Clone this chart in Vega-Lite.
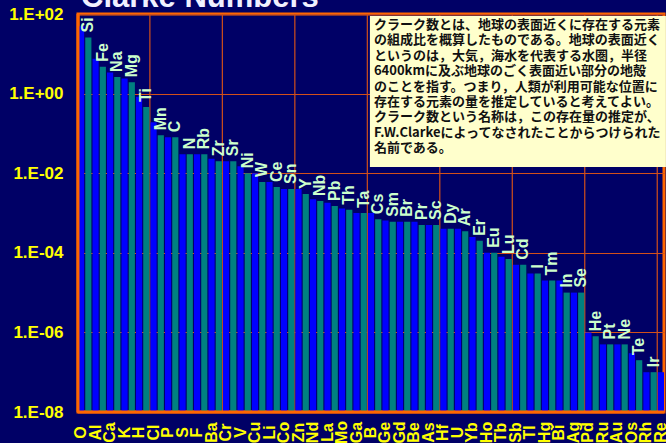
{
  "$schema": "https://vega.github.io/schema/vega-lite/v6.json",
  "width": 586,
  "height": 398,
  "autosize": {"type": "none"},
  "padding": {"left": 78, "top": 14, "right": 2, "bottom": 31},
  "background": "#000066",
  "config": {
    "view": {"stroke": "#FF6600", "strokeWidth": 3},
    "font": "Liberation Sans",
    "axis": {"gridColor": "#D2501A", "gridWidth": 1.2, "gridOpacity": 1}
  },
  "datasets": {
    "clarke": [
      {"el": "O", "v": 49.5}, {"el": "Si", "v": 25.8}, {"el": "Al", "v": 7.56}, {"el": "Fe", "v": 4.7},
      {"el": "Ca", "v": 3.39}, {"el": "Na", "v": 2.63}, {"el": "K", "v": 2.4}, {"el": "Mg", "v": 1.93},
      {"el": "H", "v": 0.83}, {"el": "Ti", "v": 0.46}, {"el": "Cl", "v": 0.19}, {"el": "Mn", "v": 0.09},
      {"el": "P", "v": 0.08}, {"el": "C", "v": 0.08}, {"el": "S", "v": 0.03}, {"el": "N", "v": 0.03},
      {"el": "F", "v": 0.03}, {"el": "Rb", "v": 0.03}, {"el": "Ba", "v": 0.023}, {"el": "Zr", "v": 0.02},
      {"el": "Cr", "v": 0.02}, {"el": "Sr", "v": 0.02}, {"el": "V", "v": 0.015}, {"el": "Ni", "v": 0.01},
      {"el": "Cu", "v": 0.01}, {"el": "W", "v": 0.006}, {"el": "Li", "v": 0.006}, {"el": "Ce", "v": 0.0045},
      {"el": "Co", "v": 0.004}, {"el": "Sn", "v": 0.004}, {"el": "Zn", "v": 0.004}, {"el": "Y", "v": 0.003},
      {"el": "Nd", "v": 0.0022}, {"el": "Nb", "v": 0.002}, {"el": "La", "v": 0.0018}, {"el": "Pb", "v": 0.0015},
      {"el": "Mo", "v": 0.0013}, {"el": "Th", "v": 0.0012}, {"el": "Ga", "v": 0.001}, {"el": "Ta", "v": 0.001},
      {"el": "B", "v": 0.001}, {"el": "Cs", "v": 0.0007}, {"el": "Ge", "v": 0.00065}, {"el": "Sm", "v": 0.0006},
      {"el": "Gd", "v": 0.0006}, {"el": "Br", "v": 0.0006}, {"el": "Be", "v": 0.0006}, {"el": "Pr", "v": 0.0005},
      {"el": "As", "v": 0.0005}, {"el": "Sc", "v": 0.0005}, {"el": "Hf", "v": 0.0004}, {"el": "Dy", "v": 0.0004},
      {"el": "U", "v": 0.0004}, {"el": "Ar", "v": 0.00035}, {"el": "Yb", "v": 0.00025}, {"el": "Er", "v": 0.0002},
      {"el": "Ho", "v": 0.0001}, {"el": "Eu", "v": 0.0001}, {"el": "Tb", "v": 0.00008}, {"el": "Lu", "v": 0.00007},
      {"el": "Sb", "v": 0.00005}, {"el": "Cd", "v": 0.00005}, {"el": "Tl", "v": 0.00003}, {"el": "I", "v": 0.00003},
      {"el": "Hg", "v": 0.00002}, {"el": "Tm", "v": 0.00002}, {"el": "Bi", "v": 0.00002}, {"el": "In", "v": 0.00001},
      {"el": "Ag", "v": 0.00001}, {"el": "Se", "v": 0.00001}, {"el": "Pd", "v": 0.000001}, {"el": "He", "v": 0.0000008},
      {"el": "Ru", "v": 0.0000005}, {"el": "Pt", "v": 0.0000005}, {"el": "Au", "v": 0.0000005}, {"el": "Ne", "v": 0.0000005},
      {"el": "Os", "v": 0.0000003}, {"el": "Te", "v": 0.0000002}, {"el": "Rh", "v": 0.0000001}, {"el": "Ir", "v": 0.0000001},
      {"el": "Re", "v": 0.0000001}
    ],
    "grid": [
      {"el": "Cl"}, {"el": "Cr"}, {"el": "Zn"}, {"el": "B"}, {"el": "Hf"}, {"el": "Sb"}, {"el": "Pd"}, {"el": "Re"}
    ],
    "heading": [{"text": "Clarke Numbers"}],
    "note": [
      {"text": "クラーク数とは、地球の表面近くに存在する元素\nの組成比を概算したものである。地球の表面近く\nというのは，大気，海水を代表する水圏，半径\n6400kmに及ぶ地球のごく表面近い部分の地殻\nのことを指す。つまり，人類が利用可能な位置に\n存在する元素の量を推定していると考えてよい。\nクラーク数という名称は，この存在量の推定が、\nF.W.Clarkeによってなされたことからつけられた\n名前である。"}
    ]
  },
  "layer": [
    {
      "data": {"name": "grid"},
      "mark": {"type": "rule", "color": "#D2501A", "strokeWidth": 1.2, "xOffset": -0.6},
      "encoding": {
        "x": {"field": "el", "type": "nominal", "bandPosition": 0}
      }
    },
    {
      "data": {"name": "clarke"},
      "transform": [{"window": [{"op": "row_number", "as": "n"}]}],
      "mark": {"type": "bar"},
      "encoding": {
        "x": {
          "field": "el",
          "type": "nominal",
          "sort": null,
          "scale": {
            "paddingInner": 0.15,
            "paddingOuter": 0,
            "domain": ["O","Si","Al","Fe","Ca","Na","K","Mg","H","Ti","Cl","Mn","P","C","S","N","F","Rb","Ba","Zr","Cr","Sr","V","Ni","Cu","W","Li","Ce","Co","Sn","Zn","Y","Nd","Nb","La","Pb","Mo","Th","Ga","Ta","B","Cs","Ge","Sm","Gd","Br","Be","Pr","As","Sc","Hf","Dy","U","Ar","Yb","Er","Ho","Eu","Tb","Lu","Sb","Cd","Tl","I","Hg","Tm","Bi","In","Ag","Se","Pd","He","Ru","Pt","Au","Ne","Os","Te","Rh","Ir","Re"]
          },
          "axis": {
            "title": null,
            "values": ["O","Al","Ca","K","H","Cl","P","S","F","Ba","Cr","V","Cu","Li","Co","Zn","Nd","La","Mo","Ga","B","Ge","Gd","Be","As","Hf","U","Yb","Ho","Tb","Sb","Tl","Hg","Bi","Ag","Pd","Ru","Au","Os","Rh","Re"],
            "labelAngle": -90,
            "labelAlign": "center",
            "labelBaseline": "middle",
            "labelPadding": 20,
            "labelColor": "#FFFF00",
            "labelFont": "Liberation Sans",
            "labelFontWeight": "bold",
            "labelFontSize": 16,
            "labelOverlap": false,
            "labelBound": false,
            "labelFlush": false,
            "ticks": false,
            "domain": false,
            "grid": false
          }
        },
        "y": {
          "field": "v",
          "type": "quantitative",
          "scale": {"type": "log", "domain": [1e-8, 100], "nice": false},
          "axis": {
            "title": null,
            "values": [1e-8, 1e-6, 1e-4, 1e-2, 1, 100],
            "labelExpr": "'1.E' + (round(log(datum.value)/LN10) >= 0 ? '+' : '-') + (abs(round(log(datum.value)/LN10)) < 10 ? '0' : '') + abs(round(log(datum.value)/LN10))",
            "labelColor": "#FFFF00",
            "labelFont": "Liberation Sans",
            "labelFontWeight": "bold",
            "labelFontSize": 17,
            "labelPadding": 15,
            "labelFlush": false,
            "ticks": false,
            "domain": false,
            "grid": true,
            "gridColor": "#D2501A",
            "gridWidth": 1.2
          }
        },
        "y2": {"datum": 1e-8},
        "fill": {
          "condition": {"test": "datum.n % 2 == 0", "value": "#008080"},
          "value": "#0000FF"
        }
      }
    },
    {
      "data": {"name": "clarke"},
      "transform": [
        {"window": [{"op": "row_number", "as": "n"}]},
        {"filter": "datum.n % 2 == 0"}
      ],
      "mark": {
        "type": "text",
        "angle": -90,
        "align": "left",
        "baseline": "middle",
        "dx": 5,
        "font": "Liberation Sans",
        "fontWeight": "bold",
        "fontSize": 16,
        "color": "#CCFFCC"
      },
      "encoding": {
        "x": {"field": "el", "type": "nominal"},
        "y": {"field": "v", "type": "quantitative"},
        "text": {"field": "el"}
      }
    },
    {
      "data": {"values": [{}]},
      "mark": {"type": "rule", "color": "#FF6600", "strokeWidth": 3},
      "encoding": {"y": {"datum": 1e-8}}
    },
    {
      "data": {"values": [{}]},
      "mark": {"type": "rule", "color": "#FF6600", "strokeWidth": 3},
      "encoding": {"x": {"datum": "O", "bandPosition": 0}}
    },
    {
      "data": {"name": "heading"},
      "mark": {
        "type": "text",
        "align": "left",
        "baseline": "alphabetic",
        "dx": 3,
        "font": "Liberation Sans",
        "fontWeight": "bold",
        "fontSize": 31,
        "color": "#F0F0FF"
      },
      "encoding": {
        "x": {"datum": "O", "bandPosition": 0},
        "y": {"datum": 150},
        "text": {"field": "text"}
      }
    },
    {
      "data": {"name": "note"},
      "mark": {"type": "rect", "fill": "#FFFFCC", "xOffset": 2, "x2Offset": 5},
      "encoding": {
        "x": {"datum": "B", "bandPosition": 0},
        "x2": {"datum": "Re"},
        "y": {"datum": 89},
        "y2": {"datum": 0.0143}
      }
    },
    {
      "data": {"name": "note"},
      "mark": {
        "type": "text",
        "align": "left",
        "baseline": "top",
        "dx": 6,
        "dy": 3,
        "lineBreak": "\n",
        "lineHeight": 15.4,
        "font": "Noto Sans CJK JP",
        "fontWeight": "bold",
        "fontSize": 13,
        "color": "#111111"
      },
      "encoding": {
        "x": {"datum": "B", "bandPosition": 0},
        "y": {"datum": 89},
        "text": {"field": "text"}
      }
    }
  ]
}
